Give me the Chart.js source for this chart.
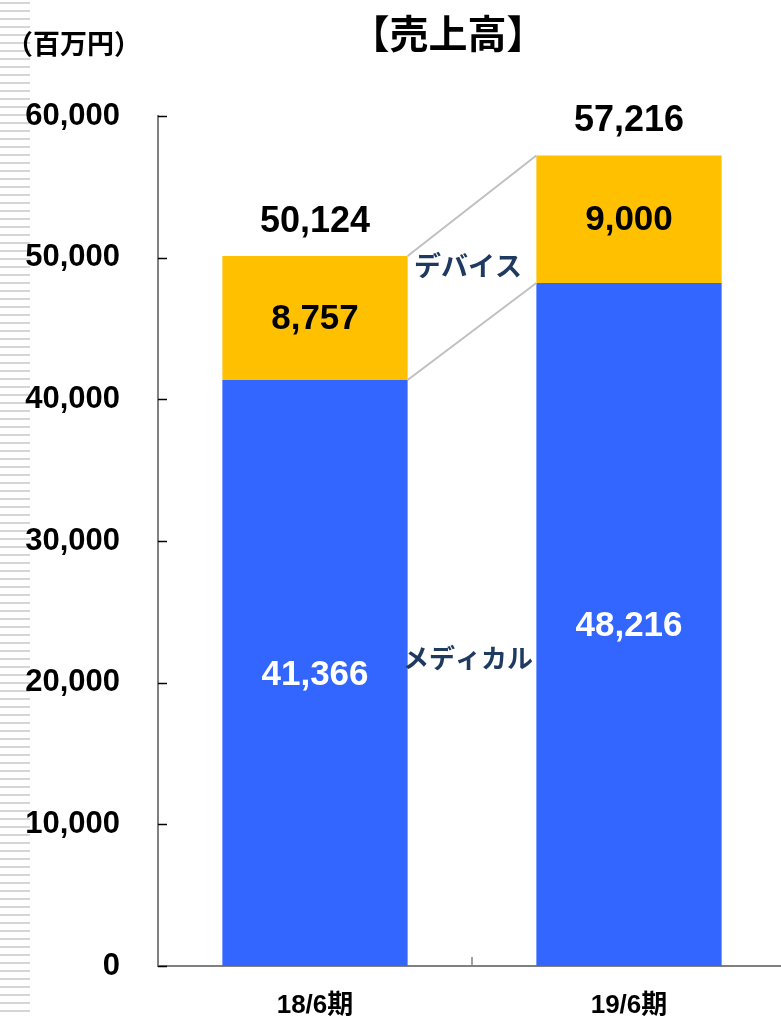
<!DOCTYPE html>
<html lang="ja">
<head>
<meta charset="utf-8">
<title>売上高</title>
<script src="https://cdn.jsdelivr.net/npm/chart.js@4.4.1/dist/chart.umd.min.js"></script>
<style>
    html, body {
        margin: 0;
        padding: 0;
        width: 781px;
        height: 1018px;
        overflow: hidden;
        background: #ffffff;
    }

    .stripes {
        position: absolute;
        left: 0;
        top: 0;
        width: 30px;
        height: 1018px;
        background: repeating-linear-gradient(to bottom, #ffffff 0px, #ffffff 2px, #d6d6d6 2px, #d6d6d6 4px, #ffffff 4px, #ffffff 8px);
    }

    .chart-box {
        position: absolute;
        left: 0;
        top: 0;
        width: 790px;
        height: 1018px;
    }
</style>
</head>
<body>

<div class="stripes"></div>

<div class="chart-box">
    <canvas id="salesChart"></canvas>
</div>

<script>
const categories = ["18/6期", "19/6期"];
const medicalValues = [41366, 48216];
const deviceValues = [8757, 9000];
const totalValues = [50124, 57216];
const yTicks = [0, 10000, 20000, 30000, 40000, 50000, 60000];

document.addEventListener("DOMContentLoaded", () => {

    const numFont = "'Liberation Sans', Arial, 'Noto Sans CJK JP', sans-serif";
    const jpFont = "'Noto Sans CJK JP', 'Liberation Sans', sans-serif";

    const fmt = v => v.toLocaleString("en-US");


    /* ===============================
       タイトル・単位・ラベル
    =============================== */

    const extrasPlugin = {

        id: "extras",

        afterDatasetsDraw(chart) {

            const ctx = chart.ctx;
            const x = chart.scales.x;
            const y = chart.scales.y;
            const medMeta = chart.getDatasetMeta(0);
            const devMeta = chart.getDatasetMeta(1);

            ctx.save();

            // 積み上げをつなぐ線
            ctx.strokeStyle = "#c0c0c0";
            ctx.lineWidth = 2;

            const b0 = devMeta.data[0];
            const b1 = devMeta.data[1];
            const r0 = b0.x + b0.width / 2;
            const l1 = b1.x - b1.width / 2;

            ctx.beginPath();
            ctx.moveTo(r0, y.getPixelForValue(medicalValues[0] + deviceValues[0]));
            ctx.lineTo(l1, y.getPixelForValue(medicalValues[1] + deviceValues[1]));
            ctx.moveTo(r0, y.getPixelForValue(medicalValues[0]));
            ctx.lineTo(l1, y.getPixelForValue(medicalValues[1]));
            ctx.stroke();

            // 値ラベル
            ctx.textAlign = "center";
            ctx.textBaseline = "middle";
            ctx.font = "bold 35px " + numFont;

            medMeta.data.forEach((bar, i) => {
                ctx.fillStyle = "#ffffff";
                ctx.fillText(fmt(medicalValues[i]), bar.x, (bar.y + bar.base) / 2 + 2);
            });

            devMeta.data.forEach((bar, i) => {
                ctx.fillStyle = "#000000";
                ctx.fillText(fmt(deviceValues[i]), bar.x, (bar.y + bar.base) / 2 + 1);
            });

            ctx.font = "bold 36px " + numFont;
            devMeta.data.forEach((bar, i) => {
                ctx.fillStyle = "#000000";
                ctx.fillText(fmt(totalValues[i]), bar.x, bar.y - 34);
            });

            // 系列名
            ctx.fillStyle = "#1f3a60";
            ctx.font = "bold 27px " + jpFont;

            const midX = (devMeta.data[0].x + devMeta.data[1].x) / 2 - 4;
            const devY = devMeta.data.reduce((s, b) => s + (b.y + b.base) / 2, 0) / 2 - 3;
            const medY = medMeta.data.reduce((s, b) => s + (b.y + b.base) / 2, 0) / 2 + 9;

            ctx.fillText("デバイス", midX, devY);
            ctx.font = "bold 26px " + jpFont;
            ctx.fillText("メディカル", midX, medY);

            // 内向きの目盛り
            ctx.strokeStyle = "#000000";
            ctx.lineWidth = 1.5;
            yTicks.forEach(v => {
                const py = Math.round(y.getPixelForValue(v)) + 0.5;
                ctx.beginPath();
                ctx.moveTo(x.left, py);
                ctx.lineTo(x.left + 9, py);
                ctx.stroke();
            });

            ctx.strokeStyle = "#808080";
            ctx.lineWidth = 1.5;
            const boundary = (x.getPixelForValue(0) + x.getPixelForValue(1)) / 2;
            ctx.beginPath();
            ctx.moveTo(boundary, y.bottom);
            ctx.lineTo(boundary, y.bottom - 9);
            ctx.stroke();

            // タイトルと単位
            ctx.fillStyle = "#000000";
            ctx.font = "bold 39px " + jpFont;
            ctx.fillText("【売上高】", 448, 33);

            ctx.textAlign = "left";
            ctx.font = "bold 27px " + jpFont;
            ctx.fillText("（百万円）", 6, 44);

            ctx.restore();
        }
    };



    /* ===============================
       チャート
    =============================== */

    const canvas = document.getElementById("salesChart");

    if (canvas) {

        new Chart(canvas.getContext("2d"), {

            type: "bar",

            data: {

                labels: categories,

                datasets: [
                    {
                        label: "メディカル",
                        data: medicalValues,
                        backgroundColor: "#3366ff",
                        barPercentage: 1,
                        categoryPercentage: 0.59
                    },
                    {
                        label: "デバイス",
                        data: deviceValues,
                        backgroundColor: "#ffc000",
                        barPercentage: 1,
                        categoryPercentage: 0.59
                    }
                ]
            },

            options: {

                responsive: true,
                maintainAspectRatio: false,
                animation: false,

                layout: {
                    padding: { top: 116, right: 4, bottom: 0, left: 0 }
                },

                plugins: {
                    legend: { display: false },
                    tooltip: { enabled: false }
                },

                scales: {

                    x: {
                        stacked: true,
                        grid: { display: false },
                        border: { color: "#808080", width: 2 },
                        ticks: {
                            color: "#000000",
                            padding: 16,
                            font: { family: numFont, size: 26, weight: "bold" }
                        },
                        afterFit(scale) {
                            scale.height = 52;
                        }
                    },

                    y: {
                        stacked: true,
                        min: 0,
                        max: 60000,
                        grid: { display: false, drawTicks: false },
                        border: { color: "#808080", width: 2 },
                        afterBuildTicks(scale) {
                            scale.ticks = yTicks.map(v => ({ value: v }));
                        },
                        ticks: {
                            color: "#000000",
                            padding: 38,
                            font: { family: numFont, size: 31, weight: "bold" },
                            callback: v => fmt(v)
                        },
                        afterFit(scale) {
                            scale.width = 158;
                            // ラベル余白がレイアウトを押し上げないように
                            scale.paddingTop = 0;
                            scale.paddingBottom = 0;
                        }
                    }
                }
            },

            plugins: [extrasPlugin]

        });

    }

});
</script>
</body>
</html>
